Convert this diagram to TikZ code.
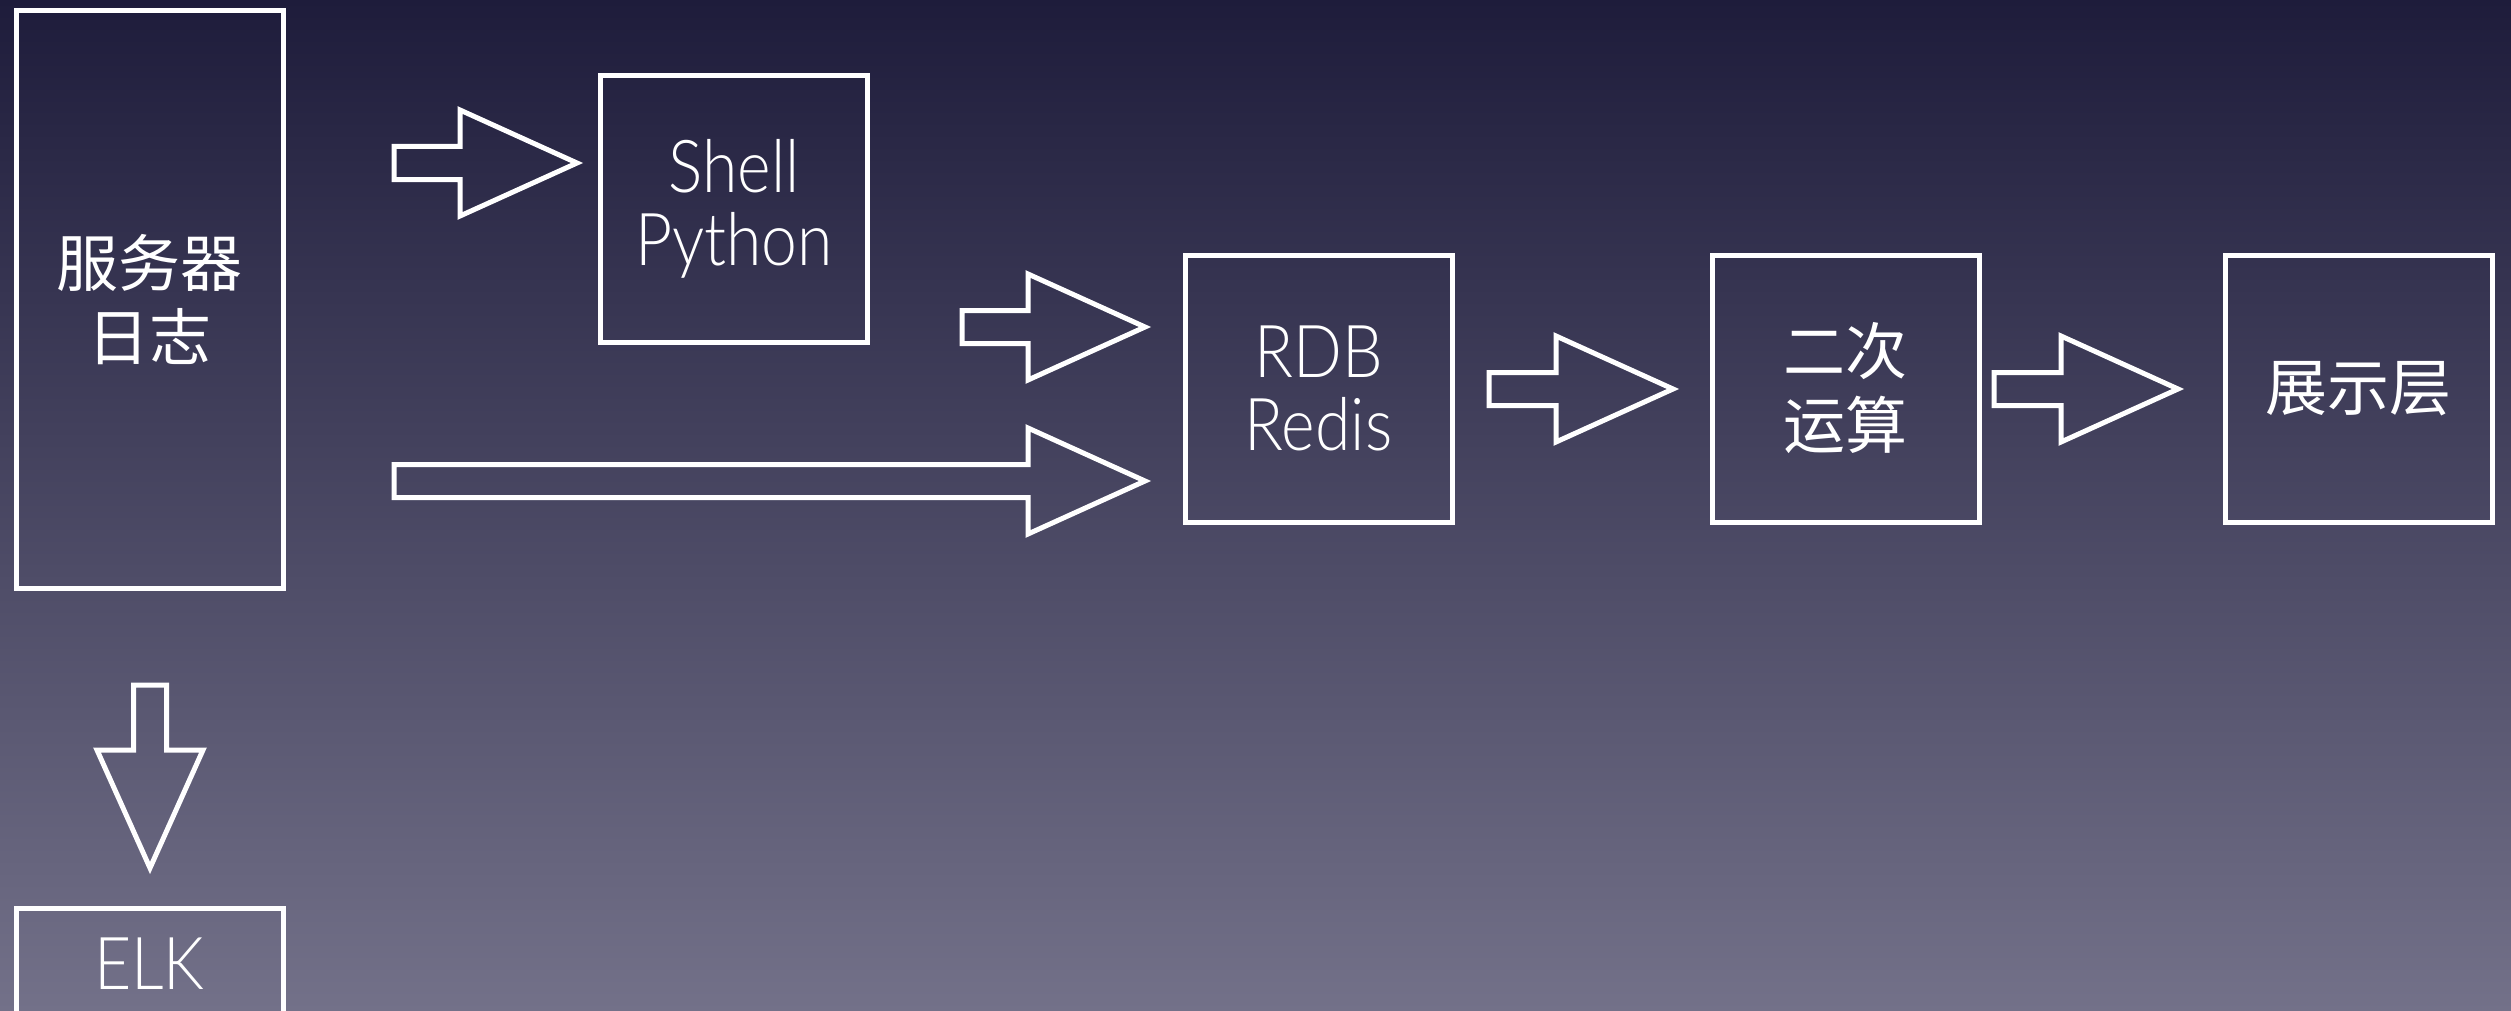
\documentclass[tikz,border=0pt]{standalone}
\usepackage{fontspec}
\setmainfont{Lato}[UprightFont=* Light, FakeStretch=0.88]
\newfontfamily\cjk{Noto Sans CJK SC}
\definecolor{bgtop}{HTML}{1E1C3B}
\definecolor{bgbot}{HTML}{737189}
\newcommand\blockarrowR[3]{%
  \draw[arr] ({#1},{#3-16.5}) -- ({#2-117},{#3-16.5}) -- ({#2-117},{#3-53}) -- ({#2},{#3})
    -- ({#2-117},{#3+53}) -- ({#2-117},{#3+16.5}) -- ({#1},{#3+16.5}) -- cycle;}
\begin{document}
\begin{tikzpicture}[x=0.5pt,y=-0.5pt,
  box/.style={draw=white, line width=2.5pt, minimum width=133.5pt, minimum height=133.5pt,
    inner sep=0pt, align=center, text=white},
  lat/.style={font=\fontsize{36.5pt}{36.5pt}\selectfont},
  han/.style={font=\cjk\fontsize{31pt}{37pt}\selectfont},
  arr/.style={draw=white, line width=2.5pt, line join=miter}]
\shade[top color=bgtop, bottom color=bgbot] (0,0) rectangle (2511,1011);
\useasboundingbox (0,0) rectangle (2511,1011);
\node[box, han, minimum height=288.5pt] (server) at (149.5,299.5) {服务器\\日志};
\node[box, lat] (shell) at (734,209) {Shell\\Python};
\node[box, lat] (rdb) at (1318.5,388.5) {RDB\\Redis};
\node[box, han] (calc) at (1845.5,388.5) {二次\\运算};
\node[box, han] (show) at (2358.5,388.5) {展示层};
\node[box, lat, minimum height=56pt] (elk) at (149.5,964) {ELK};
\blockarrowR{394}{577}{163}
\blockarrowR{962}{1145}{327}
\blockarrowR{394}{1145}{481}
\blockarrowR{1489}{1673}{389}
\blockarrowR{1994}{2178}{389}
\draw[arr] (133.5,685) -- (166.5,685) -- (166.5,750) -- (203,750) -- (150,868)
  -- (97,750) -- (133.5,750) -- cycle;
\end{tikzpicture}
\end{document}
